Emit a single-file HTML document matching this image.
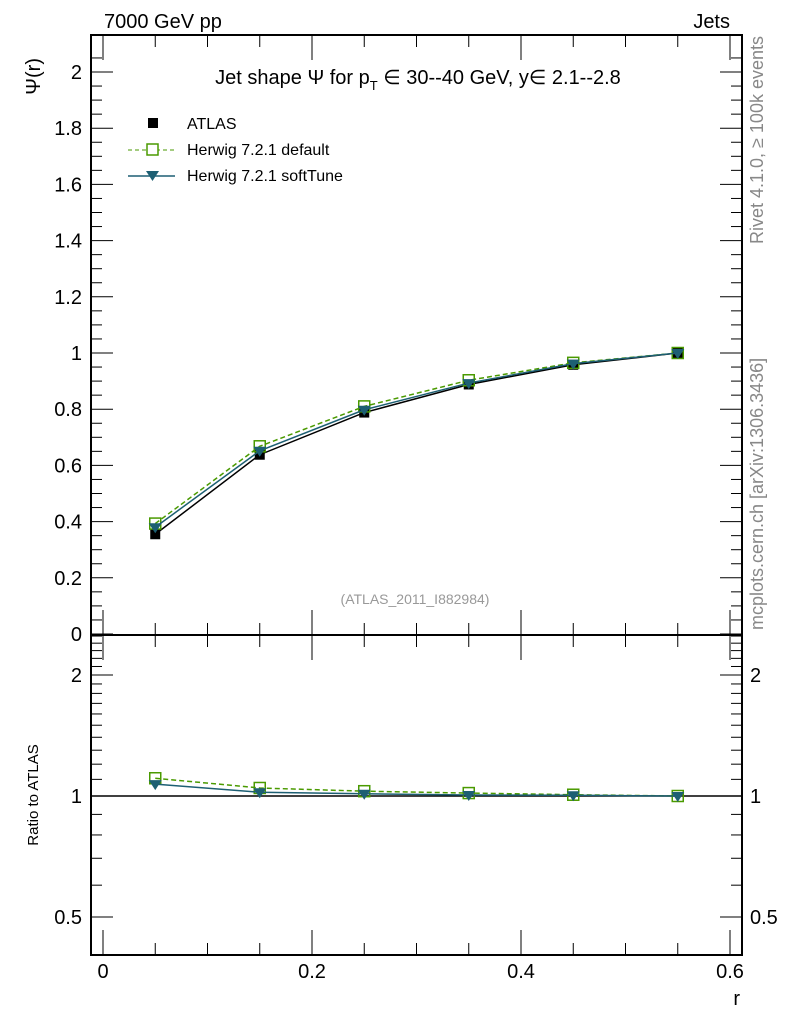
<!DOCTYPE html>
<html><head><meta charset="utf-8"><style>
body{margin:0;background:#fff;width:786px;height:1024px;overflow:hidden}
svg{font-family:"Liberation Sans",sans-serif}
</style></head><body>
<svg id="c" width="786" height="1024">
<text x="104" y="28" font-size="20">7000 GeV pp</text>
<text x="730" y="28" font-size="20" text-anchor="end">Jets</text>
<text x="418" y="84" font-size="20" text-anchor="middle">Jet shape Ψ for p<tspan font-size="13" dy="6">T</tspan><tspan dy="-6"> ∈ 30--40 GeV, y∈ 2.1--2.8</tspan></text>
<text x="415" y="604" font-size="14" fill="#999" text-anchor="middle">(ATLAS_2011_I882984)</text>
<text transform="translate(40,58) rotate(-90)" font-size="20" text-anchor="end">Ψ(r)</text>
<text transform="translate(38,795) rotate(-90)" font-size="15" text-anchor="middle">Ratio to ATLAS</text>
<text x="740" y="1005" font-size="20" text-anchor="end">r</text>
<text transform="translate(763,36) rotate(-90)" font-size="18" fill="#888" text-anchor="end">Rivet 4.1.0, ≥ 100k events</text>
<text transform="translate(763,630) rotate(-90)" font-size="18" fill="#888">mcplots.cern.ch [arXiv:1306.3436]</text>
<g id="legend">
<rect x="148" y="118" width="10" height="10" fill="#000"/>
<text x="187" y="129" font-size="16">ATLAS</text>
<line x1="128" y1="150" x2="175" y2="150" stroke="#4a9a00" stroke-dasharray="4,3"/>
<rect x="147" y="144" width="11" height="11" fill="#fff" stroke="#4a9a00" stroke-width="1.5"/>
<text x="187" y="155" font-size="16">Herwig 7.2.1 default</text>
<line x1="128" y1="176" x2="175" y2="176" stroke="#1d5f73" stroke-width="1.5"/>
<path d="M146,171 L159,171 L152.5,181 Z" fill="#1d5f73"/>
<text x="187" y="181" font-size="16">Herwig 7.2.1 softTune</text>
</g>
</svg>
<script>
const rVals=[0.05,0.15,0.25,0.35,0.45,0.55];
const atlas=[0.355,0.638,0.788,0.888,0.958,1.0];
const herwigDefault=[0.393,0.668,0.81,0.903,0.965,1.0];
const herwigSoft=[0.38,0.652,0.798,0.893,0.962,1.0];
const mainTicks=[0,0.2,0.4,0.6,0.8,1,1.2,1.4,1.6,1.8,2];
const mainTickLabels=["0","0.2","0.4","0.6","0.8","1","1.2","1.4","1.6","1.8","2"];
const xTicks=[0,0.2,0.4,0.6];
const xTickLabels=["0","0.2","0.4","0.6"];
const ratioTicks=[0.5,1,2];
const ratioTickLabels=["0.5","1","2"];

const L=91,R=742,T=35,M=635,B=955;
const X=r=>103+1045*r;
const Y=v=>634-281*v;
const YR=v=>796-121*Math.log2(v);
const svg=document.getElementById('c');
const NS='http://www.w3.org/2000/svg';
function mk(tag,attrs,parent){const e=document.createElementNS(NS,tag);for(const k in attrs)e.setAttribute(k,attrs[k]);(parent||svg).appendChild(e);return e;}

let f1=mk('rect',{x:L,y:T,width:R-L,height:M-T,fill:'none',stroke:'#000','stroke-width':2});


let f2=mk('rect',{x:L,y:M,width:R-L,height:B-M,fill:'none',stroke:'#000','stroke-width':2});



for(let v=0;v<=2.1;v+=0.05){const y=Y(v);if(y<T)continue;const maj=Math.abs(v*5-Math.round(v*5))<1e-6;const len=maj?22:11;
 mk('line',{x1:L,y1:y,x2:L+len,y2:y,stroke:'#000'});mk('line',{x1:R,y1:y,x2:R-len,y2:y,stroke:'#000'});}
mainTicks.forEach((v,i)=>{const t=mk('text',{x:82,y:Y(v)+7,'font-size':20,'text-anchor':'end'});t.textContent=mainTickLabels[i];
 
 });
for(let k=0;k<=12;k++){const r=k*0.05;const x=X(r);const maj=k%4==0;const len=maj?25:12;
 [T,M].forEach(y0=>mk('line',{x1:x,y1:y0,x2:x,y2:y0+len,stroke:'#000'}));
 mk('line',{x1:x,y1:M,x2:x,y2:M-len,stroke:'#000'});mk('line',{x1:x,y1:B,x2:x,y2:B-len,stroke:'#000'});}
xTicks.forEach((v,i)=>{const t=mk('text',{x:X(v),y:978,'font-size':20,'text-anchor':'middle'});t.textContent=xTickLabels[i];
 
 });
const minor=[0.4,0.5,0.6,0.7,0.8,0.9,1,1.1,1.2,1.3,1.4,1.5,1.6,1.7,1.8,1.9,2,2.1,2.2,2.3,2.4,2.5];
minor.forEach(v=>{const y=YR(v);if(y<M||y>B)return;const maj=ratioTicks.includes(v);const len=maj?22:11;
 mk('line',{x1:L,y1:y,x2:L+len,y2:y,stroke:'#000'});mk('line',{x1:R,y1:y,x2:R-len,y2:y,stroke:'#000'});});
ratioTicks.forEach((v,i)=>{const t=mk('text',{x:82,y:YR(v)+7,'font-size':20,'text-anchor':'end'});t.textContent=ratioTickLabels[i];
 
 
 const t2=mk('text',{x:750,y:YR(v)+7,'font-size':20});t2.textContent=ratioTickLabels[i];
 
 });
let ref=mk('line',{x1:L,y1:YR(1),x2:R,y2:YR(1),stroke:'#000','stroke-width':1.5});



function series(vals,yf,color,dash,marker,name){
 const pts=vals.map((v,i)=>X(rVals[i])+','+yf(v)).join(' ');
 const pl=mk('polyline',{points:pts,fill:'none',stroke:color,'stroke-width':1.5});
 if(dash)pl.setAttribute('stroke-dasharray','5,3');
 
 
 vals.forEach((v,i)=>{const x=X(rVals[i]),y=yf(v);let m;
  if(marker=='open')m=mk('rect',{x:x-5.5,y:y-5.5,width:11,height:11,fill:'#fff','fill-opacity':0,stroke:color,'stroke-width':1.5});
  else if(marker=='tri')m=mk('path',{d:`M${x-6.5},${y-4} L${x+6.5},${y-4} L${x},${y+6} Z`,fill:color});
  else m=mk('rect',{x:x-5,y:y-5,width:10,height:10,fill:color});
  
  });
}
series(atlas,Y,'#000',false,'sq','atlas');
series(herwigDefault,Y,'#4a9a00',true,'open','herwig-default');
series(herwigSoft,Y,'#1d5f73',false,'tri','herwig-softtune');
series(herwigDefault.map((v,i)=>v/atlas[i]),YR,'#4a9a00',true,'open','ratio-default');
series(herwigSoft.map((v,i)=>v/atlas[i]),YR,'#1d5f73',false,'tri','ratio-softtune');
</script>
</body></html>
